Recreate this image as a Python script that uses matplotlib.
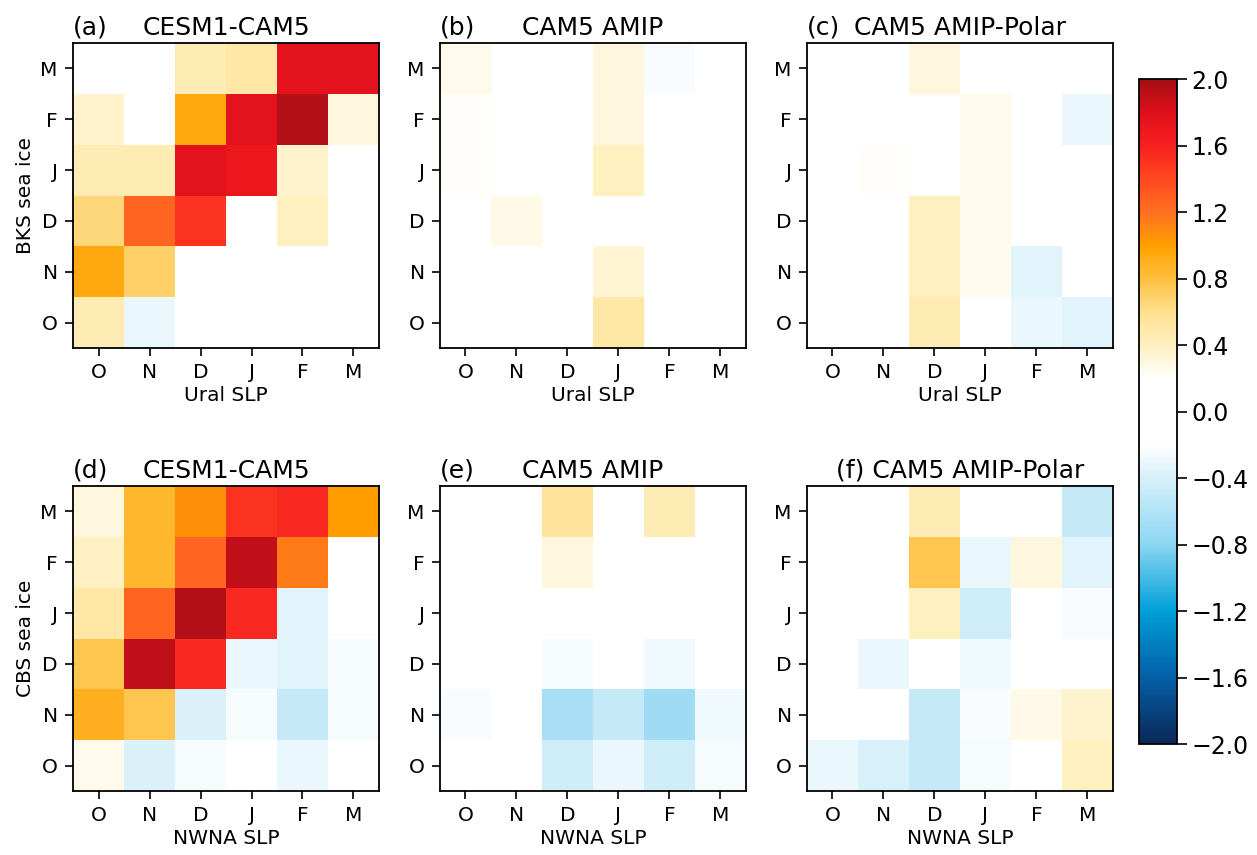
import numpy as np
import matplotlib
matplotlib.use("Agg")
import matplotlib.pyplot as plt
from matplotlib.colors import LinearSegmentedColormap

months = ["O", "N", "D", "J", "F", "M"]
cbar_ticks = [-2.0, -1.6, -1.2, -0.8, -0.4, 0.0, 0.4, 0.8, 1.2, 1.6, 2.0]

# rows listed bottom (O) to top (M), columns O..M
cesm_bks = [
    [0.45, -0.30, 0.00, 0.00, 0.00, 0.00],
    [0.95, 0.70, 0.00, 0.00, 0.00, 0.00],
    [0.65, 1.25, 1.50, 0.00, 0.40, 0.00],
    [0.45, 0.45, 1.75, 1.70, 0.35, 0.00],
    [0.35, 0.20, 0.95, 1.75, 1.95, 0.30],
    [0.00, 0.00, 0.45, 0.50, 1.75, 1.75],
]
amip_bks = [
    [0.00, 0.00, 0.00, 0.50, 0.00, 0.00],
    [0.00, 0.00, 0.00, 0.33, 0.00, 0.00],
    [0.00, 0.28, 0.00, 0.00, 0.00, 0.00],
    [0.21, 0.20, 0.00, 0.40, 0.00, 0.00],
    [0.21, 0.00, 0.00, 0.30, 0.00, 0.00],
    [0.25, 0.00, 0.00, 0.30, -0.22, 0.00],
]
polar_bks = [
    [0.00, 0.00, 0.45, 0.00, -0.30, -0.35],
    [0.00, 0.00, 0.40, 0.26, -0.35, 0.00],
    [0.00, 0.20, 0.40, 0.25, 0.00, 0.00],
    [0.00, 0.21, 0.00, 0.25, 0.00, 0.00],
    [0.00, 0.00, 0.00, 0.25, 0.00, -0.30],
    [0.00, 0.00, 0.30, 0.00, 0.00, 0.00],
]
cesm_cbs = [
    [0.25, -0.38, -0.25, 0.00, -0.30, 0.00],
    [0.90, 0.75, -0.38, -0.25, -0.50, -0.25],
    [0.75, 1.90, 1.55, -0.30, -0.35, -0.24],
    [0.50, 1.25, 1.95, 1.55, -0.35, 0.00],
    [0.38, 0.85, 1.25, 1.90, 1.15, 0.00],
    [0.30, 0.85, 1.05, 1.50, 1.55, 1.00],
]
amip_cbs = [
    [0.00, 0.00, -0.45, -0.30, -0.45, -0.25],
    [-0.22, 0.00, -0.65, -0.50, -0.70, -0.28],
    [0.00, 0.00, -0.25, 0.00, -0.28, 0.00],
    [0.00, 0.00, 0.00, 0.00, 0.00, 0.00],
    [0.00, 0.00, 0.30, 0.00, 0.00, 0.00],
    [0.00, 0.00, 0.55, 0.00, 0.45, 0.00],
]
polar_cbs = [
    [-0.30, -0.40, -0.50, -0.25, 0.00, 0.40],
    [0.00, 0.00, -0.50, -0.22, 0.28, 0.35],
    [0.00, -0.30, 0.00, -0.28, 0.00, 0.00],
    [0.00, 0.00, 0.40, -0.45, 0.00, -0.22],
    [0.20, 0.00, 0.75, -0.30, 0.30, -0.35],
    [0.00, 0.00, 0.45, 0.00, 0.00, -0.50],
]

panels = [
    (cesm_bks, "(a)", "CESM1-CAM5", "Ural SLP", "BKS sea ice"),
    (amip_bks, "(b)", "CAM5 AMIP", "Ural SLP", None),
    (polar_bks, "(c)", "CAM5 AMIP-Polar", "Ural SLP", None),
    (cesm_cbs, "(d)", "CESM1-CAM5", "NWNA SLP", "CBS sea ice"),
    (amip_cbs, "(e)", "CAM5 AMIP", "NWNA SLP", None),
    (polar_cbs, None, "(f) CAM5 AMIP-Polar", "NWNA SLP", None),
]

stops = [
    (-2.0, "#0a2858"), (-1.6, "#0560a8"), (-1.2, "#00a0d8"), (-0.8, "#8cd6f3"),
    (-0.4, "#d8f0fa"), (-0.2, "#ffffff"), (0.2, "#ffffff"), (0.4, "#fff0c0"),
    (0.6, "#ffe090"), (0.8, "#ffc040"), (1.0, "#ffa000"), (1.2, "#ff7020"),
    (1.4, "#ff4a20"), (1.6, "#f82020"), (1.8, "#e0101c"), (2.0, "#a50f15"),
]
cmap = LinearSegmentedColormap.from_list(
    "bwor", [((v + 2) / 4, c) for v, c in stops], N=256)

fig = plt.figure(figsize=(12.57, 8.55), dpi=100)
lefts = [0.0581, 0.350, 0.642]
bottoms = [0.593, 0.0749]
w, h = 0.2434, 0.3567

for i, (data, tag, title, xlab, ylab) in enumerate(panels):
    ax = fig.add_axes([lefts[i % 3], bottoms[i // 3], w, h])
    im = ax.imshow(np.array(data), cmap=cmap, vmin=-2, vmax=2,
                   origin="lower", aspect="auto", interpolation="nearest")
    ax.set_xticks(range(6))
    ax.set_xticklabels(months)
    ax.set_yticks(range(6))
    ax.set_yticklabels(months)
    ax.tick_params(labelsize=14.5, length=6, width=1.2, pad=5)
    for s in ax.spines.values():
        s.set_linewidth(1.3)
    ax.set_xlabel(xlab, fontsize=14.5, labelpad=3)
    if ylab:
        ax.set_ylabel(ylab, fontsize=14.5)
    ax.set_title(title, fontsize=18, pad=6)
    if tag:
        ax.set_title(tag, fontsize=18, loc="left", pad=6)

cax = fig.add_axes([0.906, 0.1298, 0.0302, 0.7778])
cb = fig.colorbar(im, cax=cax, ticks=cbar_ticks)
cb.ax.set_yticklabels([f"{t:.1f}".replace("-", "\u2212") for t in cbar_ticks])
cb.ax.tick_params(labelsize=17, length=7, width=1.2)
cb.outline.set_linewidth(1.3)

fig.savefig("out.png", dpi=100)
